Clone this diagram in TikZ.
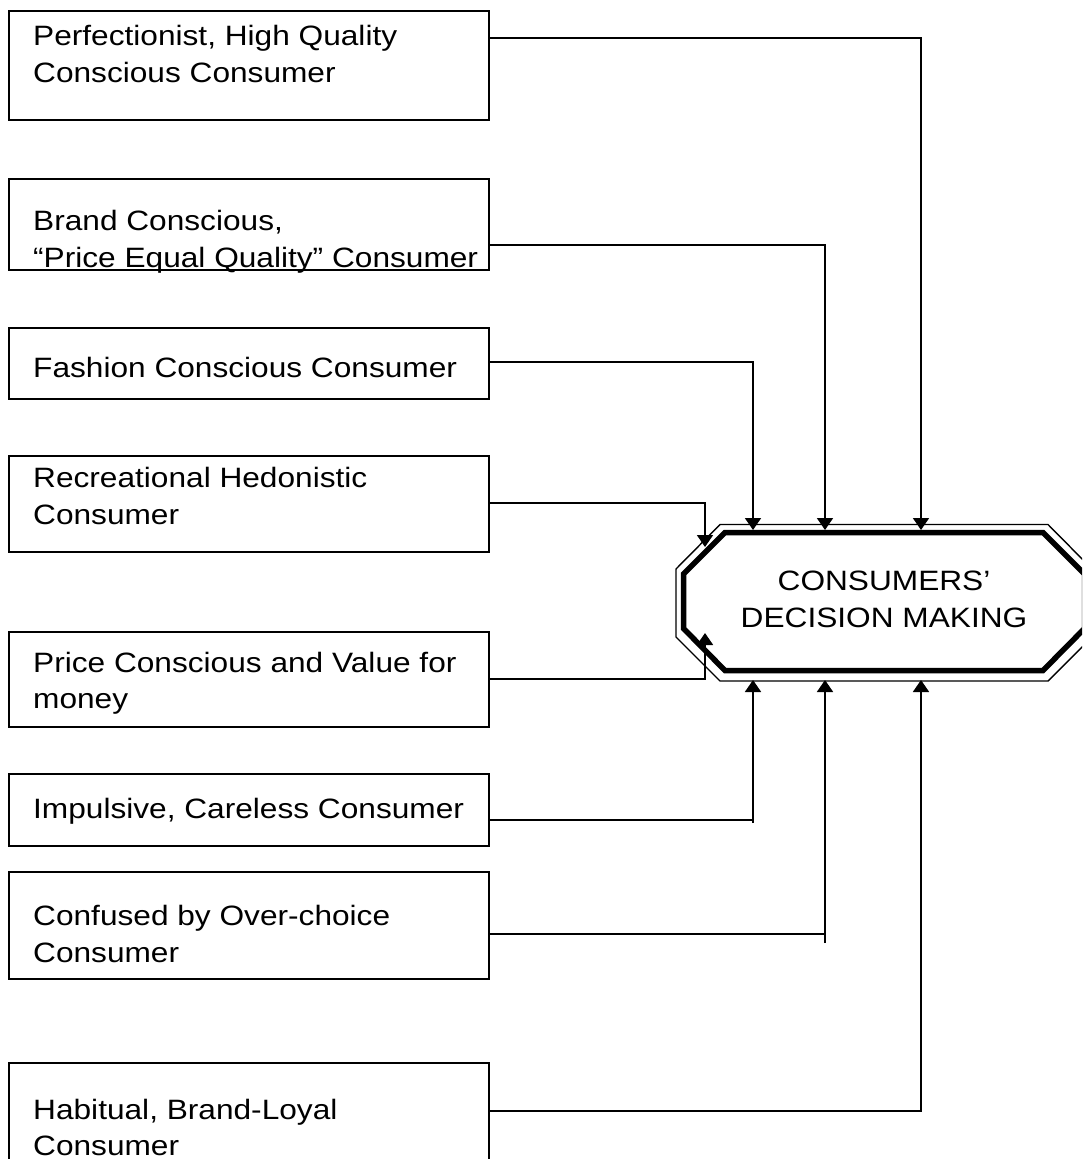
\documentclass[tikz,border=0pt]{standalone}
\usepackage{fontspec}
\setmainfont{Liberation Sans}[FakeStretch=1.13]
\usetikzlibrary{arrows.meta}
\begin{document}
\begin{tikzpicture}[x=1pt,y=-1pt,
  box/.style={draw, line width=1.9pt, inner sep=0pt, outer sep=0pt,
              minimum width=480pt, anchor=north west},
  txt/.style={inner sep=0pt, anchor=base west,
              font=\fontsize{28pt}{37pt}\selectfont},
  ctxt/.style={txt, anchor=base},
  conn/.style={line width=1.8pt},
  arr/.style={conn, -{Triangle[length=12pt,width=16pt]}},
]
\clip (0,0) rectangle (1082,1159);
\fill[white] (0,0) rectangle (1082,1159);

% consumer style boxes
\node[box, minimum height=109pt] (b1) at (9,11) {};
\node[box, minimum height=91pt]  (b2) at (9,179) {};
\node[box, minimum height=71pt]  (b3) at (9,328) {};
\node[box, minimum height=96pt]  (b4) at (9,456) {};
\node[box, minimum height=95pt]  (b5) at (9,632) {};
\node[box, minimum height=72pt]  (b6) at (9,774) {};
\node[box, minimum height=107pt] (b7) at (9,872) {};
\node[box, minimum height=130pt] (b8) at (9,1063) {};

\node[txt] (t1a) at (33,45)  {Perfectionist, High Quality};
\node[txt] (t1b) at (33,82)  {Conscious Consumer};
\node[txt] (t2a) at (33,230) {Brand Conscious,};
\node[txt] (t2b) at (33,267) {“Price Equal Quality” Consumer};
\node[txt] (t3)  at (33,377) {Fashion Conscious Consumer};
\node[txt] (t4a) at (33,487) {Recreational Hedonistic};
\node[txt] (t4b) at (33,524) {Consumer};
\node[txt] (t5a) at (33,672) {Price Conscious and Value for};
\node[txt] (t5b) at (33,708) {money};
\node[txt] (t6)  at (33,818) {Impulsive, Careless Consumer};
\node[txt] (t7a) at (33,925) {Confused by Over-choice};
\node[txt] (t7b) at (33,962) {Consumer};
\node[txt] (t8a) at (33,1119) {Habitual, Brand-Loyal};
\node[txt] (t8b) at (33,1155) {Consumer};

% central octagon: thin outer line and thick inner line
\draw[line width=1.4pt, fill=white]
  (720,524.5) -- (1048,524.5) -- (1092,569) -- (1092,637) -- (1048,681)
  -- (720,681) -- (676,637) -- (676,569) -- cycle;
\draw[line width=5.5pt]
  (725,532.5) -- (1043,532.5) -- (1084.5,574) -- (1084.5,628.5) -- (1043,670.5)
  -- (725,670.5) -- (683.5,628.5) -- (683.5,574) -- cycle;
\node[ctxt] (dm1) at (884,590) {CONSUMERS’};
\node[ctxt] (dm2) at (884,627) {DECISION MAKING};

% arrow targets on the octagon
\coordinate (in1) at (921,530);
\coordinate (in2) at (825,530);
\coordinate (in3) at (753,530);
\coordinate (in4) at (705,547);
\coordinate (in5) at (705,633);
\coordinate (in6) at (753,680);
\coordinate (in7) at (825,680);
\coordinate (in8) at (921,680);

% connector start points on the box edges
\coordinate (s1) at ([yshift=-27pt]b1.north east);
\coordinate (s2) at ([yshift=-66pt]b2.north east);
\coordinate (s3) at ([yshift=-34pt]b3.north east);
\coordinate (s4) at ([yshift=-47pt]b4.north east);
\coordinate (s5) at ([yshift=-47pt]b5.north east);
\coordinate (s6) at ([yshift=-46pt]b6.north east);
\coordinate (s7) at ([yshift=-62pt]b7.north east);
\coordinate (s8) at ([yshift=-48pt]b8.north east);

% lower ends of the risers that run a little past their feeders
\coordinate (j6) at (753,823);
\coordinate (j7) at (825,943);

\draw[arr] (s1) -| (in1);
\draw[arr] (s2) -| (in2);
\draw[arr] (s3) -| (in3);
\draw[arr] (s4) -| (in4);
\draw[arr] (s5) -| (in5);
\draw[conn] (s6) -- (s6 -| j6);
\draw[arr] (j6) -- (in6);
\draw[conn] (s7) -- (s7 -| j7);
\draw[arr] (j7) -- (in7);
\draw[arr] (s8) -| (in8);
\end{tikzpicture}
\end{document}
